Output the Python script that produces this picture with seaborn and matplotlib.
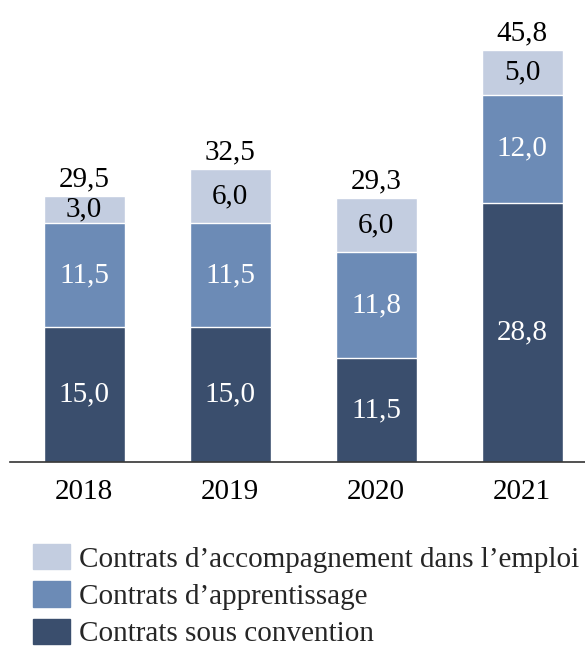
import matplotlib
matplotlib.use("Agg")
import matplotlib.pyplot as plt
import matplotlib.patches as mpatches
import seaborn as sns
import pandas as pd

# data
years = ["2018", "2019", "2020", "2021"]
sous_convention = [15.0, 15.0, 11.5, 28.8]
apprentissage = [11.5, 11.5, 11.8, 12.0]
accompagnement = [3.0, 6.0, 6.0, 5.0]
totals = [29.5, 32.5, 29.3, 45.8]

labels = ["Contrats d\u2019accompagnement dans l\u2019emploi",
          "Contrats d\u2019apprentissage",
          "Contrats sous convention"]
c_light = "#c3cde0"
c_mid = "#6c8bb6"
c_dark = "#3a4e6d"

sns.set_theme(style="white")
plt.rcParams["font.family"] = ["Liberation Serif", "DejaVu Serif"]

df = pd.DataFrame({
    "year": years,
    "dark": sous_convention,
    "mid": [a + b for a, b in zip(sous_convention, apprentissage)],
    "top": [a + b + c for a, b, c in zip(sous_convention, apprentissage, accompagnement)],
})

fig = plt.figure(figsize=(5.85, 6.5), dpi=100)
ax = fig.add_axes([10 / 585, 1 - 462 / 650, 1 - 10 / 585, 462 / 650])

# overlapping bars, tallest first, gives the stacked look
sns.barplot(data=df, x="year", y="top", color=c_light, width=0.555, saturation=1, ax=ax)
sns.barplot(data=df, x="year", y="mid", color=c_mid, width=0.555, saturation=1, ax=ax)
sns.barplot(data=df, x="year", y="dark", color=c_dark, width=0.555, saturation=1, ax=ax)

ax.set_xlim(-0.507, 3.43)
ax.set_ylim(0, 51.3)

fmt = lambda v: f"{v:.1f}".replace(".", ",")
fs = 21
for i in range(len(years)):
    d, m, t = sous_convention[i], apprentissage[i], accompagnement[i]
    ax.text(i, d / 2, fmt(d), ha="center", va="center", color="white", fontsize=fs)
    ax.text(i, d + m / 2, fmt(m), ha="center", va="center", color="white", fontsize=fs)
    ax.text(i, d + m + t / 2, fmt(t), ha="center", va="center", color="black", fontsize=fs)
    ax.text(i, d + m + t + 0.4, fmt(totals[i]), ha="center", va="bottom", color="black", fontsize=fs)

for s in ["top", "right", "left"]:
    ax.spines[s].set_visible(False)
ax.spines["bottom"].set_color("#333333")
ax.spines["bottom"].set_linewidth(1.2)
ax.set_yticks([])
ax.set_xlabel("")
ax.set_ylabel("")
ax.tick_params(axis="x", labelsize=fs, length=0, pad=12, colors="black")

handles = [mpatches.Patch(color=c, label=l) for c, l in zip([c_light, c_mid, c_dark], labels)]
fig.legend(handles=handles, loc="upper left", bbox_to_anchor=(0.056, 1 - 544 / 650),
           frameon=False, fontsize=fs, handlelength=1.27, handleheight=0.95,
           handletextpad=0.3, labelspacing=0.3, borderaxespad=0, borderpad=0)

fig.savefig("out.png", dpi=100)
